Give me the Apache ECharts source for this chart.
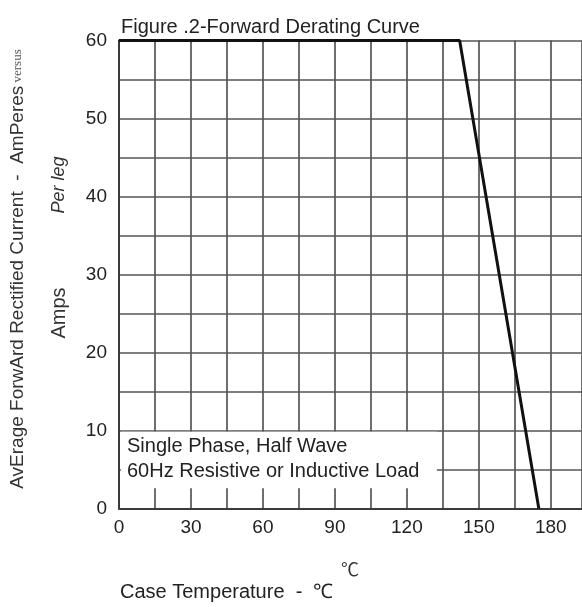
<!DOCTYPE html>
<html>
<head>
<meta charset="utf-8">
<script src="https://cdn.jsdelivr.net/npm/echarts@6/dist/echarts.min.js"></script>
<style>html,body{margin:0;padding:0;background:#fff}#c{width:582px;height:607px}</style>
</head>
<body>
<div id="c"></div>
<script>
// Data
const curveTemps = [0, 142, 175];
const curveAmps = [60, 60, 0];
const xTicks = [0, 30, 60, 90, 120, 150, 180];
const yTicks = [0, 10, 20, 30, 40, 50, 60];
const noteBox = { x: [0.8, 132.5], y: [2.6, 9.85] };
const noteLines = ['Single Phase, Half Wave', '60Hz Resistive or Inductive Load'];

const FONT = '"Liberation Sans", Arial, sans-serif';
const chart = echarts.init(document.getElementById('c'));
chart.setOption({
  animation: false,
  backgroundColor: '#fff',
  title: {
    text: 'Figure .2-Forward Derating Curve',
    left: 116, top: 12,
    textStyle: { fontFamily: FONT, fontSize: 20, fontWeight: 'normal', color: '#222' }
  },
  grid: { left: 119, top: 40.5, right: -1, bottom: 98.5, containLabel: false },
  xAxis: {
    type: 'value', min: 0, max: 193, interval: 15,
    axisLine: { show: true, onZero: false, lineStyle: { color: '#3a3a3a', width: 2 } },
    axisTick: { show: false },
    splitLine: { show: true, lineStyle: { color: '#555', width: 1.7 } },
    axisLabel: {
      margin: 10, fontFamily: FONT, fontSize: 19, color: '#222',
      showMaxLabel: false,
      formatter: v => xTicks.includes(v) ? String(v) : ''
    }
  },
  yAxis: {
    type: 'value', min: 0, max: 60, interval: 5,
    axisLine: { show: true, lineStyle: { color: '#3a3a3a', width: 2 } },
    axisTick: { show: false },
    splitLine: { show: true, lineStyle: { color: '#555', width: 1.7 } },
    axisLabel: {
      margin: 12, fontFamily: FONT, fontSize: 19, color: '#222',
      formatter: v => yTicks.includes(v) ? String(v) : ''
    }
  },
  series: [{
    type: 'line',
    clip: false,
    symbol: 'none',
    lineStyle: { color: '#111', width: 3 },
    data: curveTemps.map((t, i) => [t, curveAmps[i]]),
    z: 5,
    markArea: {
      silent: true,
      itemStyle: { color: '#fff', opacity: 1 },
      label: { show: false },
      data: [[{ coord: [noteBox.x[0], noteBox.y[0]] }, { coord: [noteBox.x[1], noteBox.y[1]] }]]
    }
  }],
  graphic: [
    {
      type: 'text', left: 127, top: 434, z: 10,
      style: { text: noteLines.join('\n'), fontFamily: FONT, fontSize: 20, lineHeight: 25, fill: '#222' }
    },
    {
      type: 'text', x: 18, y: 269, rotation: Math.PI / 2, z: 10,
      style: {
        text: '{a|AvErage ForwArd Rectified Current  -  AmPeres}{b| versus}',
        align: 'center', verticalAlign: 'middle',
        rich: {
          a: { fontFamily: FONT, fontSize: 19, fill: '#333' },
          b: { fontFamily: '"Liberation Serif", "DejaVu Serif", serif', fontSize: 13, fill: '#555' }
        }
      }
    },
    {
      type: 'text', x: 59, y: 185, rotation: Math.PI / 2, z: 10,
      style: { text: 'Per leg', align: 'center', verticalAlign: 'middle', fontFamily: FONT, fontStyle: 'italic', fontSize: 18, fill: '#333' }
    },
    {
      type: 'text', x: 59, y: 313, rotation: Math.PI / 2, z: 10,
      style: { text: 'Amps', align: 'center', verticalAlign: 'middle', fontFamily: FONT, fontSize: 20, fill: '#333' }
    },
    {
      type: 'text', x: 350, y: 569, z: 10,
      style: { text: '℃', align: 'center', verticalAlign: 'middle', fontFamily: '"Noto Sans CJK SC", sans-serif', fontSize: 18, fill: '#333' }
    },
    {
      type: 'text', left: 120, top: 582, z: 10,
      style: { text: 'Case Temperature  -  ℃', fontFamily: FONT, fontSize: 20, fill: '#222' }
    }
  ]
});
</script>
</body>
</html>
